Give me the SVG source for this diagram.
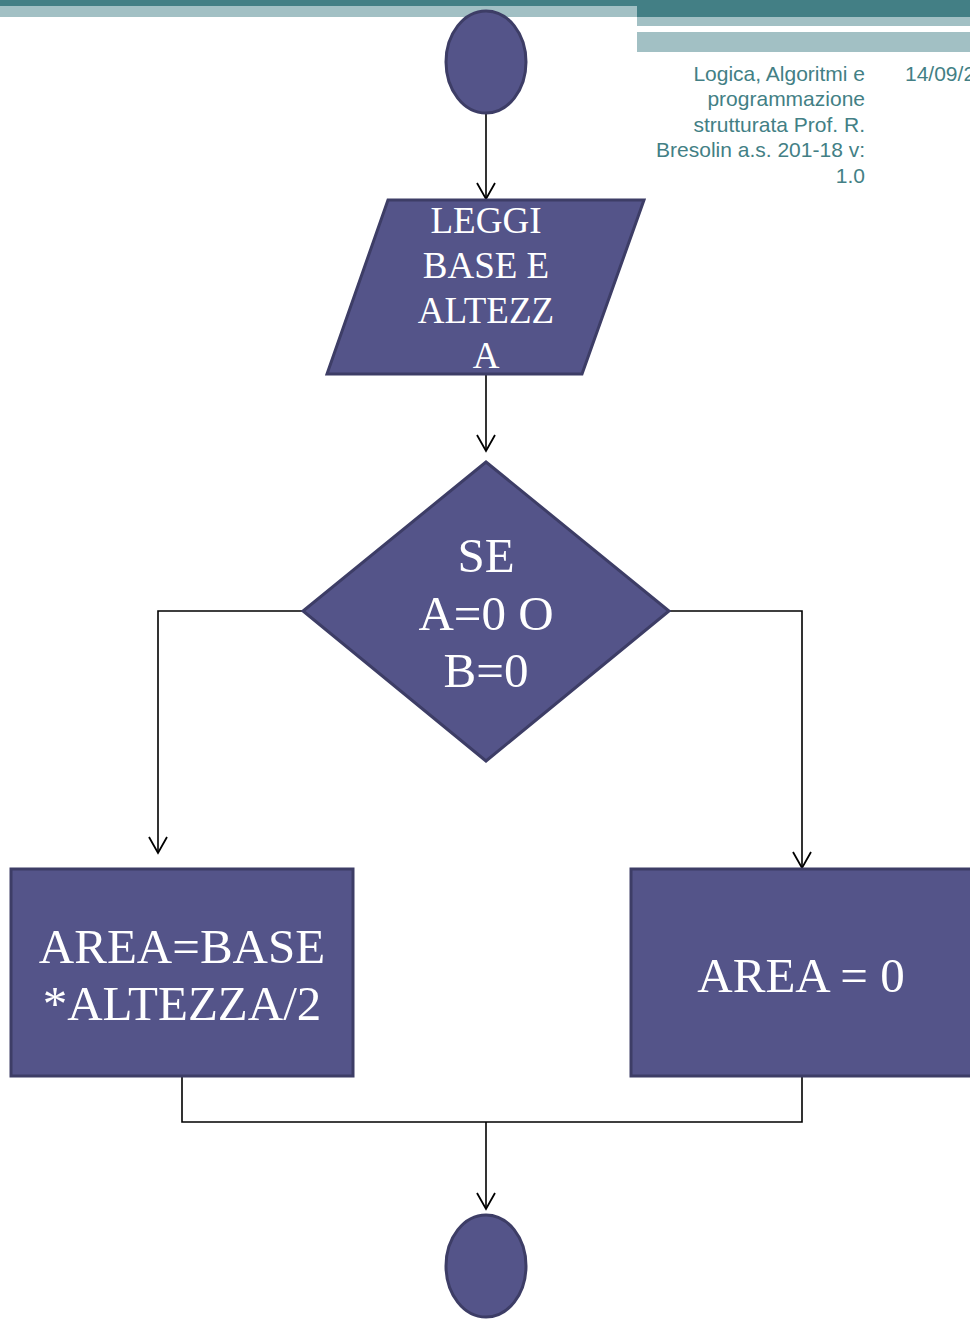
<svg xmlns="http://www.w3.org/2000/svg" width="970" height="1319" viewBox="0 0 970 1319">
<defs>
<style>
.node{fill:#545489;stroke:#3D3D66;stroke-width:3}
.lbl{font-family:"Liberation Serif","Times New Roman",serif;fill:#fff;text-anchor:middle}
.hdr{font-family:"Liberation Sans",Arial,sans-serif;font-size:21px;fill:#437F85}
.conn{fill:none;stroke:#000;stroke-width:1.6}
</style>
<marker id="arr" markerWidth="24" markerHeight="24" refX="20" refY="12" orient="auto" markerUnits="userSpaceOnUse" viewBox="0 0 24 24">
<path d="M4 3 L20 12 L4 21" fill="none" stroke="#000" stroke-width="1.8"/>
</marker>
</defs>
<g id="header">
<rect x="0" y="0" width="970" height="6" fill="#437F85"/>
<rect x="0" y="6" width="637" height="11" fill="#A2C0C4"/>
<rect x="637" y="0" width="333" height="17" fill="#437F85"/>
<rect x="637" y="17" width="333" height="9" fill="#A2C0C4"/>
<rect x="637" y="32" width="333" height="20" fill="#A2C0C4"/>
<text class="hdr" text-anchor="end"><tspan x="865" y="81">Logica, Algoritmi e</tspan><tspan x="865" y="106">programmazione</tspan><tspan x="865" y="132">strutturata Prof. R.</tspan><tspan x="865" y="157">Bresolin a.s. 201-18 v:</tspan><tspan x="865" y="183">1.0</tspan></text>
<text class="hdr" x="905" y="81">14/09/2</text>
</g>
<g id="connectors">
<path class="conn" d="M486 113 V199" marker-end="url(#arr)"/>
<path class="conn" d="M486 355 V451" marker-end="url(#arr)"/>
<path class="conn" d="M303 611 H158 V853" marker-end="url(#arr)"/>
<path class="conn" d="M669 611 H802 V868" marker-end="url(#arr)"/>
<path class="conn" d="M182 1076 V1122 H802 V1076"/>
<path class="conn" d="M486 1122 V1209" marker-end="url(#arr)"/>
</g>
<g id="start">
<ellipse class="node" cx="486" cy="62" rx="40" ry="51"/>
</g>
<g id="input">
<polygon class="node" points="388,200 644,200 582,374 327,374"/>
<text class="lbl" font-size="37"><tspan x="486" y="233">LEGGI</tspan><tspan x="486" y="278">BASE E</tspan><tspan x="486" y="323">ALTEZZ</tspan><tspan x="486" y="368">A</tspan></text>
</g>
<g id="decision">
<polygon class="node" points="486,462 669,611 486,761 303,611"/>
<text class="lbl" font-size="49"><tspan x="486" y="572">SE</tspan><tspan x="486" y="630">A=0 O</tspan><tspan x="486" y="687">B=0</tspan></text>
</g>
<g id="calc">
<rect class="node" x="11" y="869" width="342" height="207"/>
<text class="lbl" font-size="49"><tspan x="182" y="963">AREA=BASE</tspan><tspan x="182" y="1020">*ALTEZZA/2</tspan></text>
</g>
<g id="zero">
<rect class="node" x="631" y="869" width="342" height="207"/>
<text class="lbl" font-size="49" x="801" y="992">AREA = 0</text>
</g>
<g id="end">
<ellipse class="node" cx="486" cy="1266" rx="40" ry="51"/>
</g>
</svg>
